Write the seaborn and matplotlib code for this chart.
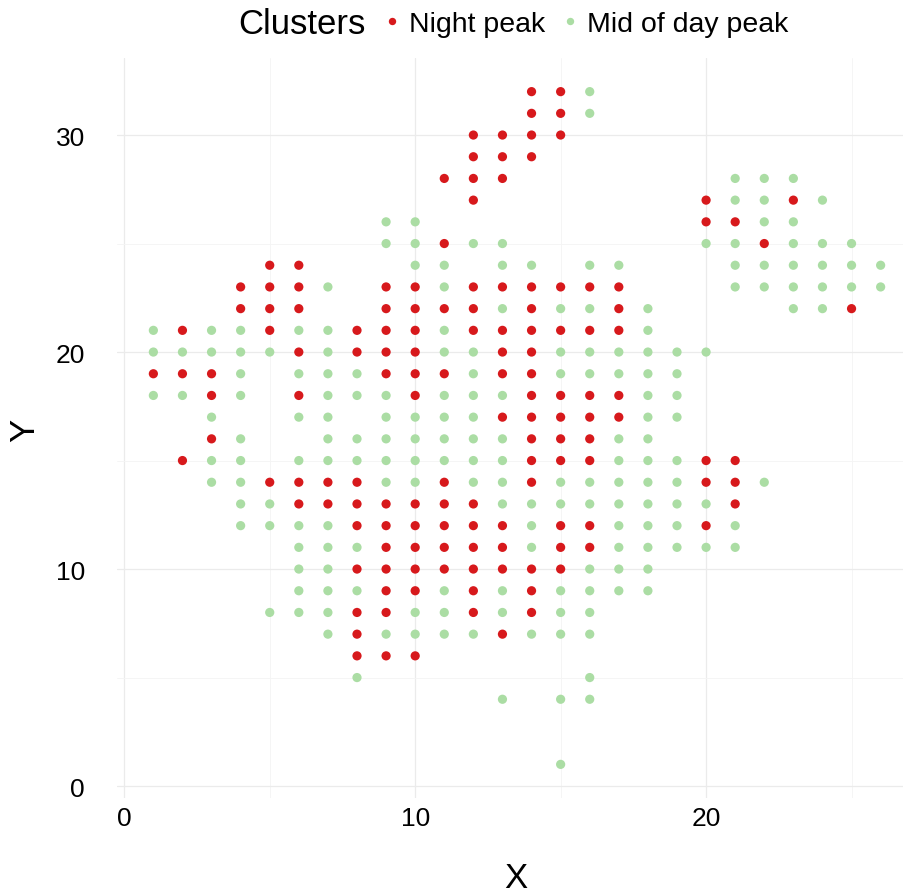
import numpy as np
import pandas as pd
import matplotlib
matplotlib.use("Agg")
import matplotlib.pyplot as plt
import seaborn as sns

# grid rows (Y) and the X positions of each cluster on that row
y_rows = [32, 31, 30, 29, 28, 27, 26, 25, 24, 23, 22, 21, 20, 19, 18, 17,
          16, 15, 14, 13, 12, 11, 10, 9, 8, 7, 6, 5, 4, 1]

night_x = [
    [14, 15], [14, 15], [12, 13, 14, 15], [12, 13, 14], [11, 12, 13],
    [12, 20, 23], [20, 21], [11, 22], [5, 6],
    [4, 5, 6, 9, 10, 12, 13, 14, 15, 16, 17],
    [4, 5, 6, 9, 10, 11, 12, 14, 17, 25],
    [2, 5, 8, 9, 10, 12, 13, 14, 15, 16, 17],
    [6, 8, 9, 10, 13, 14],
    [1, 2, 3, 9, 10, 11, 13, 14],
    [3, 6, 10, 14, 15, 16, 17],
    [13, 14, 15, 16, 17],
    [3, 14, 15, 16],
    [2, 14, 15, 16, 20, 21],
    [5, 6, 7, 8, 11, 14, 20, 21],
    [6, 7, 8, 9, 10, 11, 12, 21],
    [8, 9, 10, 11, 12, 13, 15, 16, 20],
    [9, 10, 11, 12, 13, 15, 16],
    [8, 9, 10, 11, 12, 13, 14, 15],
    [9, 10, 12, 14],
    [8, 9, 12, 14],
    [8, 13],
    [8, 9, 10],
    [], [], [],
]

mid_x = [
    [16], [16], [], [], [21, 22, 23],
    [21, 22, 24], [9, 10, 22, 23],
    [9, 10, 12, 13, 20, 21, 23, 24, 25],
    [10, 11, 13, 14, 16, 17, 21, 22, 23, 24, 25, 26],
    [7, 11, 21, 22, 23, 24, 25, 26],
    [13, 15, 16, 18, 23, 24],
    [1, 3, 4, 6, 7, 11, 18],
    [1, 2, 3, 4, 5, 7, 11, 12, 15, 16, 17, 18, 19, 20],
    [4, 6, 7, 8, 12, 15, 16, 17, 18, 19],
    [1, 2, 4, 7, 8, 9, 11, 12, 13, 18, 19],
    [3, 6, 7, 9, 10, 11, 12, 18, 19],
    [4, 7, 8, 9, 10, 11, 12, 13, 17, 18],
    [3, 4, 6, 7, 8, 9, 10, 11, 12, 13, 17, 18, 19],
    [3, 4, 9, 10, 12, 13, 15, 16, 17, 18, 19, 22],
    [4, 5, 13, 14, 15, 16, 17, 18, 19, 20],
    [4, 5, 6, 7, 14, 17, 18, 19, 21],
    [6, 7, 8, 14, 17, 18, 19, 20, 21],
    [6, 7, 16, 17, 18],
    [6, 7, 8, 11, 13, 15, 16, 17, 18],
    [5, 6, 7, 10, 11, 13, 15, 16],
    [7, 9, 10, 11, 12, 14, 15, 16],
    [],
    [8, 16],
    [13, 15, 16],
    [15],
]

cluster_names = ["Night peak", "Mid of day peak"]
cluster_colors = ["#D7191C", "#ABDDA4"]

# build long table
records = []
for y, nx, mx in zip(y_rows, night_x, mid_x):
    for x in nx:
        records.append((x, y, cluster_names[0]))
    for x in mx:
        records.append((x, y, cluster_names[1]))
df = pd.DataFrame(records, columns=["X", "Y", "Clusters"])

sns.set_theme(style="whitegrid")
plt.rcParams["font.family"] = ["Liberation Sans", "DejaVu Sans"]
plt.rcParams["text.color"] = "black"
plt.rcParams["axes.labelcolor"] = "black"

fig = plt.figure(figsize=(9.04, 8.95), dpi=100)
ax = fig.add_axes([117 / 904, 96 / 895, 800 / 904, 740 / 895])

sns.scatterplot(data=df, x="X", y="Y", hue="Clusters",
                hue_order=cluster_names,
                palette=dict(zip(cluster_names, cluster_colors)),
                s=44, linewidth=0, ax=ax)

ax.set_xlim(-0.25, 27.25)
ax.set_ylim(-0.55, 33.55)
ax.set_xticks([0, 10, 20])
ax.set_yticks([0, 10, 20, 30])
ax.set_xticks([5, 15, 25], minor=True)
ax.set_yticks([5, 15, 25], minor=True)
ax.grid(which="major", color="#EBEBEB", linewidth=0.9)
ax.grid(which="minor", color="#F4F4F4", linewidth=0.6)
ax.set_axisbelow(True)
for sp in ax.spines.values():
    sp.set_visible(False)
ax.tick_params(axis="both", which="both", length=0, labelsize=19,
               labelcolor="black")
ax.tick_params(axis="y", pad=23)
ax.tick_params(axis="x", pad=6)

ax.set_xlabel("X", fontsize=25, va="center", color="black")
ax.set_ylabel("Y", fontsize=25, va="center", color="black")
ax.xaxis.set_label_coords((516 - 117) / 800, (799 - 879) / 740)
ax.yaxis.set_label_coords((25 - 117) / 800, (799 - 430) / 740)

# legend on top, title to the left
handles, labels = ax.get_legend_handles_labels()
ax.get_legend().remove()
fig.text(238 / 904, 1 - 25 / 895, "Clusters", fontsize=25,
         ha="left", va="center", color="black")
leg = fig.legend(handles, labels, loc="center left",
                 bbox_to_anchor=(385 / 904, 1 - 25 / 895),
                 ncol=2, frameon=False, fontsize=20.5, borderpad=0,
                 borderaxespad=0, handlelength=0.5, handletextpad=0.35,
                 columnspacing=0.6, markerscale=0.8)
for t in leg.get_texts():
    t.set_color("black")

fig.savefig("out.png", dpi=100)
